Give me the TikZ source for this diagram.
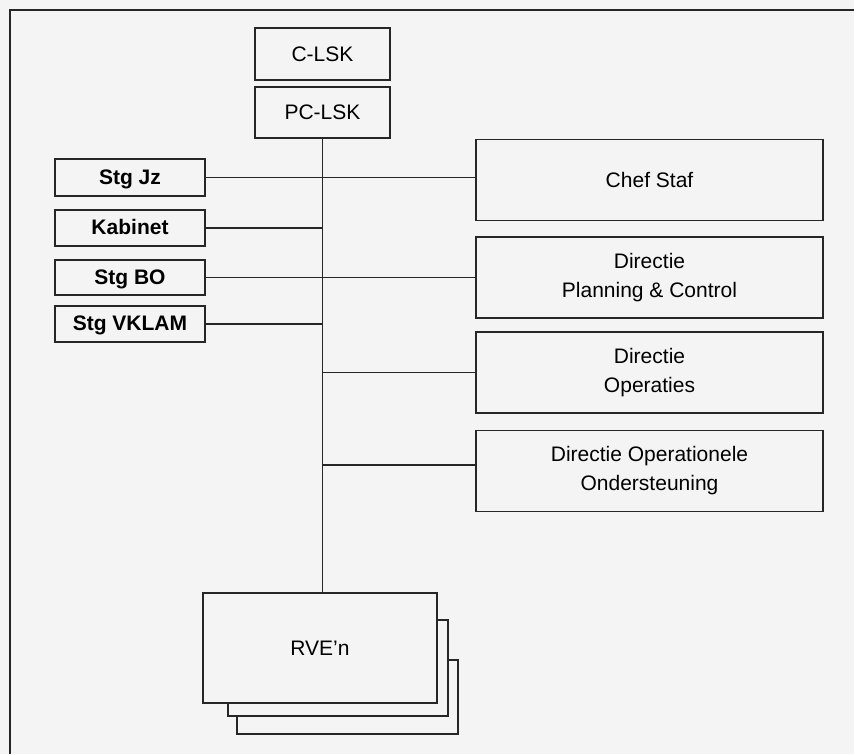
\documentclass[tikz,border=0pt]{standalone}
\usepackage{fontspec}
\setmainfont{Liberation Sans}
\usetikzlibrary{positioning, calc}
\definecolor{paper}{gray}{0.955}
\tikzset{
    box/.style={
        draw=black!85,
        line width=0.9pt,
        fill=paper,
        inner sep=0pt,
        align=center,
        font=\fontsize{10.5}{14.5}\selectfont
    },
    staffbox/.style={
        box,
        minimum width=75pt,
        text height=7.6pt,
        text depth=1pt,
        font=\fontsize{10.5}{14.5}\selectfont\bfseries
    },
    dirbox/.style={
        box,
        minimum width=173.5pt,
        minimum height=40.5pt
    },
    topbox/.style={
        box,
        minimum width=67.5pt,
        minimum height=25.75pt
    },
    line/.style={draw=black!85, line width=0.7pt}
}

\begin{document}
\begin{tikzpicture}[x=0.5pt, y=-0.5pt]
% paper and frame
\fill[paper] (0,0) rectangle (854,754);
\useasboundingbox (0,0) rectangle (854,754);
\draw[line, line width=0.9pt] (854,10) -- (10,10) -- (10,754);

% top
\node[topbox] (clsk) at (322.5,54) {C-LSK};
\node[topbox] (pclsk) at (322.5,112.5) {PC-LSK};

% staff on the left
\node[staffbox, minimum height=18.5pt] (stgjz) at (130,177.5) {Stg Jz};
\node[staffbox, minimum height=18pt] (kabinet) at (130,228) {Kabinet};
\node[staffbox, minimum height=17.5pt] (stgbo) at (130,277.5) {Stg BO};
\node[staffbox, minimum height=18pt] (stgvklam) at (130,324) {Stg VKLAM};

% directies on the right
\node[dirbox] (chefstaf) at (649.5,180) {Chef Staf};
\node[dirbox] (dirpc) at (649.5,277.5) {Directie\\Planning \& Control};
\node[dirbox] (dirops) at (649.5,372.5) {Directie\\Operaties};
\node[dirbox] (diroo) at (649.5,471) {Directie Operationele\\Ondersteuning};

% RVE'n stack
\node[box, minimum width=110.5pt, minimum height=37pt] (rve3) at (347.5,697) {};
\node[box, minimum width=110pt, minimum height=48pt] (rve2) at (338,668) {};
\node[box, minimum width=117pt, minimum height=55pt] (rve) at (320,648) {RVE'n};

% lines
\draw[line] (pclsk.south) -- (pclsk.south |- rve.north);
\draw[line] (stgjz.east) -- (stgjz.east -| chefstaf.west);
\draw[line] (kabinet.east) -- (kabinet.east -| pclsk.south);
\draw[line] (stgbo.east) -- (stgbo.east -| dirpc.west);
\draw[line] (stgvklam.east) -- (stgvklam.east -| pclsk.south);
\draw[line] (pclsk.south |- dirops.west) -- (dirops.west);
\draw[line] ($(pclsk.south |- diroo.west)+(0,-6)$) -- ($(diroo.west)+(0,-6)$);
\end{tikzpicture}
\end{document}
